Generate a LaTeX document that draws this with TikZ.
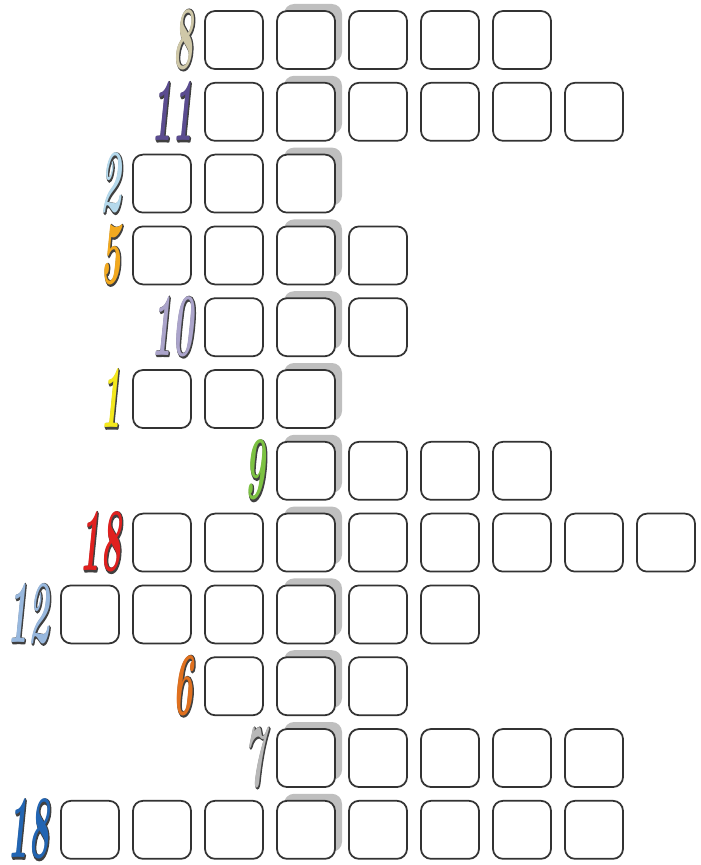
\documentclass[tikz,border=0pt]{standalone}
\usepackage{fontspec}
\newfontfamily\numfont{lmroman10-bolditalic.otf}
\newfontfamily\numedge[FakeBold=3]{lmroman10-bolditalic.otf}
\usetikzlibrary{positioning}
\definecolor{numtan}{HTML}{CFC8A8}
\definecolor{numpurple}{HTML}{5B4C90}
\definecolor{numsky}{HTML}{B5D9EC}
\definecolor{numgold}{HTML}{F2A91F}
\definecolor{numlilac}{HTML}{ABA4CB}
\definecolor{numyellow}{HTML}{F4E81C}
\definecolor{numgreen}{HTML}{7CC242}
\definecolor{numred}{HTML}{E0201F}
\definecolor{numsteel}{HTML}{98B8DE}
\definecolor{numrust}{HTML}{E0701E}
\definecolor{numsilver}{HTML}{B8B8B8}
\definecolor{numblue}{HTML}{2265B3}

\begin{document}
\begin{tikzpicture}[x=0.03cm,y=-0.03cm,
  cell/.style={draw=black!80, line width=1.5pt, fill=white, rounded corners=0.3cm, minimum size=1.74cm, inner sep=0},
  keyshade/.style={fill=black!25, rounded corners=0.3cm, minimum size=1.74cm, inner sep=0},
  numback/.style={text=black!75, inner sep=0, font=\fontsize{76}{76}\selectfont},
  numlab/.style={inner sep=0, font=\fontsize{76}{76}\selectfont}]
  \useasboundingbox (0,0) rectangle (701,865);
  % rows: row / first cell / last cell / number / colour
  \foreach \r/\a/\b/\n/\c in {1/2/6/8/numtan, 2/2/7/11/numpurple, 3/1/3/2/numsky, 4/1/4/5/numgold,
      5/2/4/10/numlilac, 6/1/3/1/numyellow, 7/3/6/9/numgreen, 8/1/8/18/numred,
      9/0/5/12/numsteel, 10/2/4/6/numrust, 11/3/7/7/numsilver, 12/0/7/18/numblue} {
    \node[keyshade] (s\r) at ({90+72*3+7},{40+71.8*(\r-1)-7}) {};
    \foreach \k in {\a,...,\b} \node[cell] (c\r-\k) at ({90+72*\k},{40+71.8*(\r-1)}) {};
    \node[numback, left=0.3cm of c\r-\a] (m\r) {\scalebox{0.4}[1]{\numedge \n}};
    \node[numlab, text=\c] (n\r) at ([shift={(-0.6,-0.6)}]m\r.center) {\scalebox{0.4}[1]{\numfont \n}};
  }
\end{tikzpicture}
\end{document}
